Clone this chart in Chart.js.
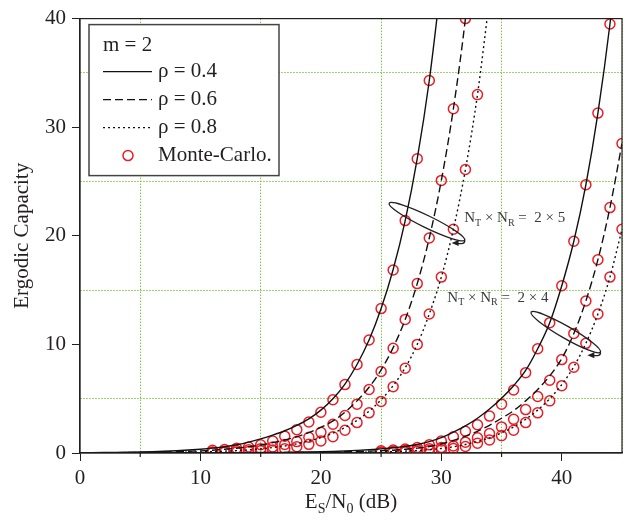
<!DOCTYPE html>
<html>
<head>
<meta charset="utf-8">
<script src="https://cdn.jsdelivr.net/npm/chart.js@4.4.1/dist/chart.umd.min.js"></script>
<style>
  html, body { margin: 0; padding: 0; background: #fff; }
  #wrap { width: 629px; height: 523px; }
</style>
</head>
<body>
<div id="wrap"><canvas id="chart" width="629" height="523"></canvas></div>
<script>
// x positions (Es/N0 in dB)
const snrDb = [0,1,2,3,4,5,6,7,8,9,10,11,12,13,14,15,16,17,18,19,20,21,22,23,24,25,26,27,28,29,30,31,32,33,34,35,36,37,38,39,40,41,42,43,44,45]
const mcLeftX = [11,12,13,14,15,16,17,18,19,20,21,22,23,24,25,26,27,28,29,30,31,32,33]
const mcRightX = [25,26,27,28,29,30,31,32,33,34,35,36,37,38,39,40,41,42,43,44,45]

// analytical curves, NT x NR = 2 x 5 (start at 0 dB)
const thLeftRho04 = [0.02,0.03,0.04,0.05,0.07,0.09,0.12,0.16,0.21,0.27,0.35,0.45,0.58,0.76,1.0,1.3,1.65,2.05,2.55,3.15,3.95,5.0,6.35,8.15,10.4,13.3,16.9,21.4,27.1,34.3,43.5]
const thLeftRho06 = [0.01,0.01,0.02,0.03,0.04,0.05,0.07,0.09,0.12,0.16,0.2,0.26,0.34,0.44,0.57,0.74,0.95,1.2,1.5,1.88,2.35,2.95,3.75,4.8,6.05,7.65,9.7,12.3,15.6,19.8,25.1,31.7,40.0,50.5]
const thLeftRho08 = [0.0,0.01,0.01,0.01,0.02,0.02,0.03,0.04,0.05,0.07,0.1,0.13,0.17,0.22,0.29,0.38,0.5,0.65,0.85,1.1,1.42,1.82,2.35,3.0,3.85,4.9,6.2,7.85,10.0,12.8,16.2,20.6,26.1,33.0,41.8]

// analytical curves, NT x NR = 2 x 4
const thRightRho04 = [0,0,0,0,0,0,0,0.01,0.01,0.01,0.01,0.01,0.02,0.02,0.03,0.04,0.05,0.06,0.08,0.1,0.12,0.15,0.19,0.24,0.3,0.38,0.48,0.61,0.78,1.05,1.42,1.92,2.5,3.2,4.05,5.05,6.2,7.6,9.6,12.0,15.4,19.5,24.7,31.3,39.5,49.8]
const thRightRho06 = [0,0,0,0,0,0,0,0,0.01,0.01,0.01,0.01,0.02,0.02,0.02,0.03,0.03,0.04,0.05,0.06,0.07,0.09,0.11,0.14,0.17,0.21,0.26,0.34,0.45,0.6,0.85,1.15,1.55,2.0,2.55,3.2,3.9,4.8,5.85,7.1,8.7,11.0,14.0,17.8,22.6,28.5]
const thRightRho08 = [0,0,0,0,0,0,0,0,0,0,0.01,0.01,0.01,0.01,0.01,0.02,0.02,0.02,0.02,0.03,0.03,0.04,0.05,0.06,0.08,0.1,0.13,0.17,0.23,0.31,0.42,0.57,0.78,1.05,1.4,1.85,2.4,3.1,3.95,5.0,6.3,7.95,10.1,12.8,16.2,20.6]

// Monte-Carlo points
const mcLeftRho04 = [0.25,0.32,0.43,0.55,0.76,1.1,1.55,2.15,2.85,3.75,4.9,6.3,8.15,10.4,13.3,16.85,21.4,27.1,34.3]
const mcLeftRho06 = [0.1,0.15,0.22,0.3,0.4,0.55,0.78,1.05,1.45,1.9,2.65,3.45,4.5,5.85,7.5,9.65,12.3,15.6,19.8,25.1,31.7,40.0]
const mcLeftRho08 = [0.05,0.07,0.1,0.14,0.2,0.28,0.4,0.58,0.8,1.1,1.5,2.1,2.8,3.7,4.75,6.1,7.8,10.0,12.8,16.2,20.6,26.1,33.0]
const mcRightRho04 = [0.2,0.27,0.37,0.5,0.75,1.1,1.5,2.0,2.6,3.4,4.5,5.8,7.4,9.6,12.0,15.4,19.5,24.7,31.3,39.5]
const mcRightRho06 = [0.1,0.15,0.22,0.3,0.4,0.5,0.65,1.0,1.4,1.8,2.4,3.1,4.0,5.2,6.7,8.6,11.0,14.0,17.8,22.6,28.5]
const mcRightRho08 = [0.05,0.07,0.1,0.15,0.22,0.3,0.42,0.6,0.9,1.2,1.6,2.1,2.8,3.7,4.8,6.2,7.9,10.1,12.8,16.2,20.6]

const xTicks = [0, 10, 20, 30, 40]
const yTicks = [0, 10, 20, 30, 40]
const legendRows = ['\u03c1 = 0.4', '\u03c1 = 0.6', '\u03c1 = 0.8']

const serif = '"Liberation Serif", "Times New Roman", serif'
const ink = '#231f20'
const red = '#ec1c24'
const green = '#7cc444'
const dashes = [[], [8, 4], [2, 3]]

const pts = (xs, ys) => ys.map((y, i) => ({ x: xs[i], y: y }))

function curve(ys, dash) {
  return {
    data: pts(snrDb, ys),
    showLine: true,
    borderColor: '#111',
    borderWidth: 1.4,
    borderDash: dash,
    pointRadius: 0,
    cubicInterpolationMode: 'monotone'
  }
}

function markers(xs, ys) {
  return {
    data: pts(xs, ys),
    showLine: false,
    pointRadius: 5,
    pointBorderWidth: 1.5,
    pointBorderColor: red,
    pointBackgroundColor: 'rgba(0,0,0,0)',
    clip: 0
  }
}

// text with subscripts, parts = [[text, isSub], ...], y is baseline
function richText(ctx, parts, x, y, size, align) {
  const big = size + 'px ' + serif
  const small = Math.round(size * 0.65) + 'px ' + serif
  let w = 0
  parts.forEach(([t, sub]) => { ctx.font = sub ? small : big; w += ctx.measureText(t).width })
  let cx = align === 'center' ? x - w / 2 : x
  ctx.textAlign = 'left'
  ctx.textBaseline = 'alphabetic'
  parts.forEach(([t, sub]) => {
    ctx.font = sub ? small : big
    ctx.fillText(t, cx, y + (sub ? size * 0.22 : 0))
    cx += ctx.measureText(t).width
  })
}

function loopArrow(ctx, cx, cy, a, b, rot) {
  ctx.beginPath()
  ctx.ellipse(cx, cy, a, b, rot, 0, Math.PI * 2)
  ctx.stroke()
  // shaft from the right end, curling under the ellipse
  const ex = cx + a * Math.cos(rot), ey = cy + a * Math.sin(rot)
  const tx = ex - 13, ty = ey + 3
  ctx.beginPath()
  ctx.moveTo(ex, ey)
  ctx.quadraticCurveTo(ex + 1, ey + 5, tx + 4, ty)
  ctx.stroke()
  ctx.beginPath()
  ctx.moveTo(tx, ty)
  ctx.lineTo(tx + 7, ty - 3)
  ctx.lineTo(tx + 7, ty + 3)
  ctx.closePath()
  ctx.fill()
}

const decor = {
  id: 'decor',
  afterDatasetsDraw(chart) {
    const { ctx, chartArea: area, scales: { x, y } } = chart
    ctx.save()
    ctx.strokeStyle = ink
    ctx.fillStyle = ink
    ctx.lineWidth = 1.2

    // frame
    ctx.strokeRect(area.left, area.top, area.right - area.left, area.bottom - area.top)

    // minor ticks on x
    ;[5, 15, 25, 35].forEach(v => {
      const px = x.getPixelForValue(v)
      ctx.beginPath(); ctx.moveTo(px, area.bottom); ctx.lineTo(px, area.bottom + 4); ctx.stroke()
    })

    // loops with arrows and their labels
    ctx.lineWidth = 1.3
    loopArrow(ctx, x.getPixelForValue(28.8), y.getPixelForValue(21.3), 42, 6, 26 * Math.PI / 180)
    loopArrow(ctx, x.getPixelForValue(40.33), y.getPixelForValue(11.13), 40, 6, 30 * Math.PI / 180)
    ctx.fillStyle = '#3a3a3a'
    const lab = n => [['N', false], ['T', true], [' \u00d7 N', false], ['R', true], [' =  2 \u00d7 ' + n, false]]
    richText(ctx, lab('5'), x.getPixelForValue(31.9), y.getPixelForValue(21.24), 15)
    richText(ctx, lab('4'), x.getPixelForValue(30.5), y.getPixelForValue(13.9), 15)

    // legend box
    const lx = area.left + 9, ly = area.top + 6, lw = 190, lh = 151
    ctx.fillStyle = '#fff'
    ctx.fillRect(lx, ly, lw, lh)
    ctx.strokeStyle = '#444'
    ctx.lineWidth = 1.5
    ctx.strokeRect(lx, ly, lw, lh)
    ctx.fillStyle = ink
    ctx.font = '21px ' + serif
    ctx.textAlign = 'left'
    ctx.textBaseline = 'alphabetic'
    ctx.fillText('m = 2', lx + 14, ly + 26)
    ctx.strokeStyle = '#111'
    ctx.lineWidth = 1.4
    legendRows.forEach((t, i) => {
      const by = ly + 52 + 28 * i
      ctx.setLineDash(dashes[i])
      ctx.beginPath(); ctx.moveTo(lx + 14, by - 5); ctx.lineTo(lx + 63, by - 5); ctx.stroke()
      ctx.setLineDash([])
      ctx.fillText(t, lx + 69, by)
    })
    const my = ly + 52 + 28 * 3
    ctx.strokeStyle = red
    ctx.lineWidth = 1.5
    ctx.beginPath(); ctx.arc(lx + 39, my - 5, 5, 0, Math.PI * 2); ctx.stroke()
    ctx.fillText('Monte-Carlo.', lx + 69, my)

    // x axis title
    ctx.fillStyle = ink
    richText(ctx, [['E', false], ['S', true], ['/N', false], ['0', true], [' (dB)', false]],
      (area.left + area.right) / 2, area.bottom + 55, 21, 'center')
    ctx.restore()
  }
}

const tickFont = { family: serif, size: 21 }
const gridColor = c => (c.tick && c.tick.value % 10 === 5) ? green : 'rgba(0,0,0,0)'
const tickColor = c => (c.tick && c.tick.value % 10 === 0) ? ink : 'rgba(0,0,0,0)'

new Chart(document.getElementById('chart'), {
  type: 'scatter',
  data: {
    datasets: [
      curve(thLeftRho04, dashes[0]), curve(thLeftRho06, dashes[1]), curve(thLeftRho08, dashes[2]),
      curve(thRightRho04, dashes[0]), curve(thRightRho06, dashes[1]), curve(thRightRho08, dashes[2]),
      markers(mcLeftX, mcLeftRho04), markers(mcLeftX, mcLeftRho06), markers(mcLeftX, mcLeftRho08),
      markers(mcRightX, mcRightRho04), markers(mcRightX, mcRightRho06), markers(mcRightX, mcRightRho08)
    ]
  },
  options: {
    responsive: false,
    animation: false,
    devicePixelRatio: 1,
    layout: { padding: { top: 18, right: 7, left: 0, bottom: 0 } },
    plugins: { legend: { display: false }, tooltip: { enabled: false } },
    scales: {
      x: {
        type: 'linear', min: 0, max: 45,
        afterFit: s => { s.height = 70 },
        ticks: {
          stepSize: 5, color: ink, font: tickFont, padding: 5, maxRotation: 0,
          callback: v => xTicks.includes(v) ? String(v) : ''
        },
        grid: { color: gridColor, tickColor: tickColor, tickLength: 8, lineWidth: 1, tickBorderDash: [] },
        border: { color: ink, width: 1.2, dash: [1.5, 1.5] }
      },
      y: {
        type: 'linear', min: 0, max: 40,
        afterFit: s => { s.width = 80 },
        title: { display: true, text: 'Ergodic Capacity', color: ink, font: { family: serif, size: 21 }, padding: { top: 10, bottom: 0 } },
        ticks: {
          stepSize: 5, color: ink, font: tickFont, padding: 6,
          callback: v => yTicks.includes(v) ? String(v) : ''
        },
        grid: { color: gridColor, tickColor: tickColor, tickLength: 8, lineWidth: 1, tickBorderDash: [] },
        border: { color: ink, width: 1.2, dash: [1.5, 1.5] }
      }
    }
  },
  plugins: [decor]
})
</script>
</body>
</html>
